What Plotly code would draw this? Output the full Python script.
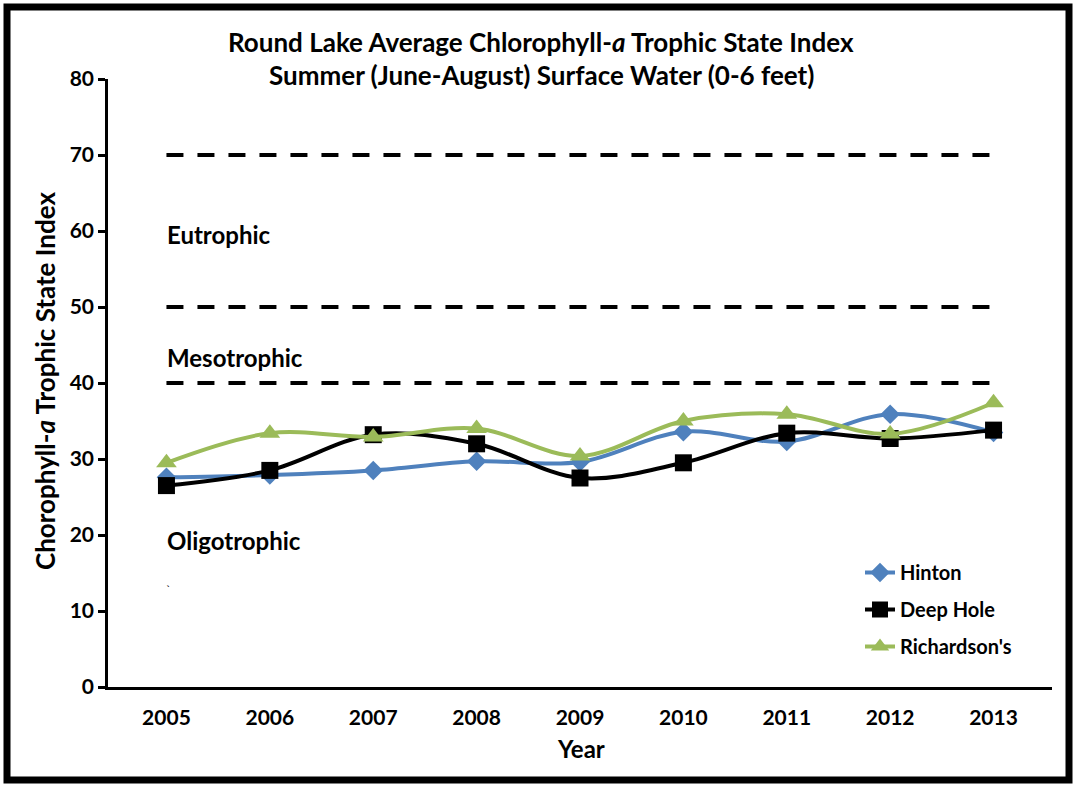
import plotly.graph_objects as go

years = ['2005', '2006', '2007', '2008', '2009', '2010', '2011', '2012', '2013']
hinton = [27.6, 27.9, 28.5, 29.7, 29.6, 33.6, 32.3, 35.9, 33.5]
deep_hole = [26.5, 28.5, 33.2, 32.0, 27.5, 29.5, 33.4, 32.7, 33.8]
richardsons = [29.5, 33.4, 32.9, 34.0, 30.4, 35.0, 35.9, 33.3, 37.4]

boundaries = [40, 50, 70]
zone_labels = ['Eutrophic', 'Mesotrophic', 'Oligotrophic']
zone_y = [59.5, 43.4, 19.3]

FONT = 'Lato, Arial'

fig = go.Figure()

# trophic boundaries as dashed lines
for b in boundaries:
    fig.add_trace(go.Scatter(x=[years[0], years[-1]], y=[b, b], mode='lines',
                             line=dict(color='black', width=4, dash='17px,14px'),
                             showlegend=False, hoverinfo='skip'))

fig.add_trace(go.Scatter(x=years, y=hinton, name='Hinton', legendgroup='a',
                         mode='lines+markers', line=dict(color='#4F81BD', width=4, shape='spline'),
                         marker=dict(symbol='diamond', size=15, color='#4F81BD')))
fig.add_trace(go.Scatter(x=years, y=deep_hole, name='Deep Hole', legendgroup='b',
                         mode='lines+markers', line=dict(color='black', width=4, shape='spline'),
                         marker=dict(symbol='square', size=17, color='black')))
fig.add_trace(go.Scatter(x=years, y=richardsons, name="Richardson's", legendgroup='c',
                         mode='lines+markers', line=dict(color='#9BBB59', width=4, shape='spline'),
                         marker=dict(symbol='triangle-up', size=18, color='#9BBB59')))


def px_x(p):
    return (p - 108) / 944


def px_y(p):
    return (687 - p) / 608


annots = []
for lab, yv in zip(zone_labels, zone_y):
    annots.append(dict(text='<b>' + lab + '</b>', x=px_x(165), y=yv, xref='paper', yref='y',
                       xanchor='left', yanchor='middle', showarrow=False,
                       font=dict(size=24, color='black', family=FONT)))
annots.append(dict(text='`', x=px_x(168), y=12.8, xref='paper', yref='y', showarrow=False,
                   xanchor='center', yanchor='middle',
                   font=dict(size=12, color='black', family=FONT)))
annots.append(dict(text='<b>Round Lake Average Chlorophyll-<i>a</i> Trophic State Index</b>',
                   x=px_x(541), y=px_y(42), xref='paper', yref='paper',
                   xanchor='center', yanchor='middle',
                   showarrow=False, font=dict(size=26, color='black', family=FONT)))
annots.append(dict(text='<b>Summer (June-August) Surface Water (0-6 feet)</b>',
                   x=px_x(541), y=px_y(75), xref='paper', yref='paper',
                   xanchor='center', yanchor='middle',
                   showarrow=False, font=dict(size=26, color='black', family=FONT)))
annots.append(dict(text='<b>Chorophyll-<i>a</i> Trophic State Index</b>', textangle=-90,
                   x=px_x(45), y=px_y(381), xref='paper', yref='paper',
                   xanchor='center', yanchor='middle',
                   showarrow=False, font=dict(size=26, color='black', family=FONT)))
annots.append(dict(text='<b>Year</b>', x=px_x(581), y=px_y(748),
                   xref='paper', yref='paper', showarrow=False,
                   xanchor='center', yanchor='middle',
                   font=dict(size=24, color='black', family=FONT)))

fig.update_layout(
    width=1073, height=787,
    margin=dict(l=108, r=21, t=79, b=100),
    paper_bgcolor='white', plot_bgcolor='white',
    font=dict(family=FONT, color='black', size=16),
    annotations=annots,
    showlegend=True,
    legend=dict(x=px_x(860), y=px_y(553), xanchor='left', yanchor='top',
                font=dict(size=20, color='black', family=FONT, weight='bold'),
                bgcolor='rgba(0,0,0,0)', tracegroupgap=8, traceorder='grouped'),
    xaxis=dict(type='category', categoryorder='array', categoryarray=years,
               showline=True, linecolor='black', linewidth=2.5,
               showgrid=False, ticks='', tickfont=dict(size=21, weight='bold'), ticklabelstandoff=10),
    yaxis=dict(range=[0, 80], dtick=10, showline=True, linecolor='black', linewidth=2.5,
               showgrid=False, ticks='outside', ticklen=7, tickwidth=2.5, tickcolor='black',
               zeroline=False, tickfont=dict(size=21, weight='bold')),
    shapes=[dict(type='rect', xref='paper', yref='paper',
                 x0=px_x(7), x1=px_x(1069), y0=px_y(780), y1=px_y(7),
                 line=dict(color='black', width=7))],
)

# the page body has a default 8px margin; remove it so the figure sits at the window origin
fig.write_html("out.html", config={'displayModeBar': False},
               post_script="document.body.style.margin='0px';")
